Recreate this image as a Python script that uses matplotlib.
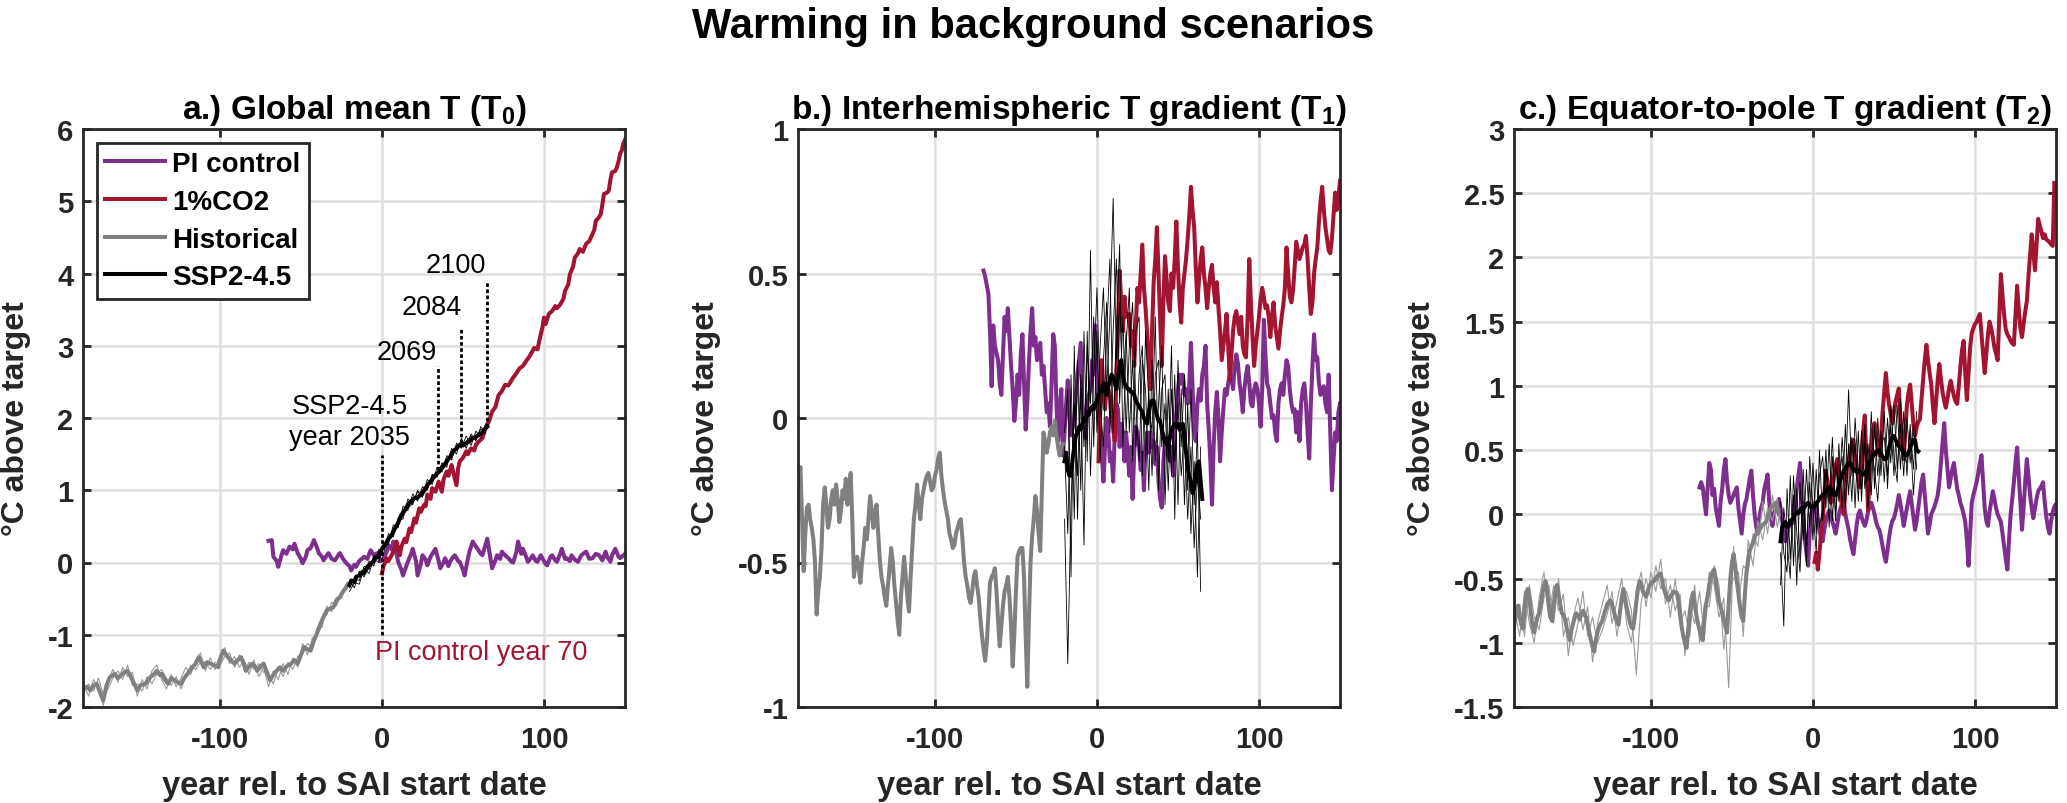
import matplotlib
matplotlib.use('Agg')
import matplotlib.pyplot as plt
import numpy as np

plt.rcParams['font.family'] = ['Liberation Sans', 'DejaVu Sans']
plt.rcParams['font.weight'] = 'bold'
plt.rcParams['axes.unicode_minus'] = False
plt.rcParams['mathtext.fontset'] = 'custom'
plt.rcParams['mathtext.rm'] = 'Liberation Sans:bold'
plt.rcParams['mathtext.it'] = 'Liberation Sans:bold'
plt.rcParams['mathtext.bf'] = 'Liberation Sans:bold'

# ---------------- data: panel a (global mean T) ----------------
PI_A = [(-70,0.30),(-68,0.31),(-67,0.08),(-65,0.02),(-64,-0.06),(-62,0.10),(-61,0.17),(-59,0.12),(-57,0.22),(-55,0.18),(-54,0.26),(-52,0.13),(-50,0.05),(-49,-0.01),(-47,0.08),(-46,0.17),(-44,0.20),(-42,0.31),(-40,0.20),(-39,0.13),(-37,0.08),(-36,0.03),(-34,0.10),(-33,0.13),(-31,0.05),(-29,0.03),(-27,0.10),(-26,0.13),(-24,0.05),(-22,-0.01),(-20,-0.05),(-19,-0.11),(-17,-0.03),(-16,-0.06),(-14,0.02),(-11,0.08),(-9,0.05),(-7,0.17),(-5,0.10),(-3,0.13),(-1,0.02),(1,0.06),(3,0.15),(4,0.24),(6,0.18),(7,0.29),(9,0.12),(10,0.01),(12,-0.10),(13,-0.18),(15,-0.05),(16,0.01),(18,0.12),(19,0.19),(21,0.02),(22,-0.18),(24,-0.02),(25,0.10),(27,0.04),(28,-0.04),(30,0.08),(33,0.19),(35,0.02),(36,-0.08),(38,0.00),(39,0.06),(41,-0.05),(42,0.01),(44,0.08),(45,0.10),(47,0.02),(48,0.01),(50,-0.10),(51,-0.18),(53,0.05),(54,0.15),(56,0.29),(58,0.22),(59,0.19),(61,0.12),(62,0.10),(64,0.25),(65,0.33),(67,0.05),(68,-0.08),(70,0.03),(71,0.10),(73,0.05),(74,0.15),(76,0.10),(78,0.06),(80,0.01),(81,0.00),(83,0.15),(84,0.29),(86,0.12),(87,0.19),(89,0.08),(90,0.01),(92,0.06),(93,0.10),(95,0.02),(96,0.01),(98,0.10),(99,0.06),(101,-0.02),(102,-0.04),(104,0.08),(105,0.10),(107,0.03),(108,0.01),(110,0.12),(111,0.19),(113,0.05),(114,0.06),(116,0.02),(117,0.10),(119,0.04),(121,0.01),(123,0.10),(126,0.15),(128,0.05),(130,0.06),(132,0.12),(134,0.10),(136,0.03),(138,0.15),(139,0.08),(141,0.01),(142,0.10),(144,0.19),(146,0.08),(147,0.06),(149,0.10),(150,0.12)]

RED_A = [(0,-0.15),(1,-0.05),(3,0.06),(4,0.02),(6,0.10),(8,0.20),(9,0.29),(11,0.10),(12,0.22),(14,0.33),(15,0.28),(17,0.47),(18,0.42),(20,0.61),(21,0.55),(23,0.75),(24,0.70),(26,0.80),(27,0.78),(28,0.94),(30,0.88),(31,1.03),(33,0.98),(35,1.12),(37,0.98),(38,1.15),(40,1.26),(41,1.20),(43,1.35),(44,1.25),(46,1.07),(47,1.30),(48,1.40),(50,1.45),(52,1.54),(53,1.50),(55,1.58),(57,1.55),(58,1.63),(60,1.68),(62,1.72),(63,1.80),(65,1.91),(66,1.95),(68,2.09),(70,2.15),(72,2.32),(74,2.37),(76,2.46),(78,2.45),(81,2.56),(83,2.62),(85,2.69),(87,2.72),(89,2.79),(91,2.85),(93,2.93),(94,2.97),(96,2.95),(97,3.06),(99,3.25),(100,3.39),(101,3.30),(103,3.44),(105,3.48),(107,3.55),(108,3.52),(110,3.57),(112,3.65),(113,3.76),(115,3.85),(116,3.99),(118,4.10),(119,4.22),(121,4.28),(122,4.34),(124,4.30),(126,4.41),(128,4.45),(129,4.50),(131,4.60),(132,4.73),(134,4.78),(135,4.82),(136,4.95),(137,5.10),(139,5.12),(140,5.15),(141,5.30),(142,5.40),(144,5.42),(145,5.47),(146,5.55),(147,5.66),(148,5.70),(149,5.80),(150,5.85)]

HIST_A = [(-184,-1.75),(-182,-1.72),(-180,-1.77),(-178,-1.70),(-176,-1.68),(-174,-1.80),(-172,-1.91),(-170,-1.70),(-168,-1.59),(-166,-1.56),(-165,-1.54),(-163,-1.60),(-161,-1.56),(-159,-1.52),(-157,-1.50),(-155,-1.58),(-154,-1.63),(-152,-1.72),(-151,-1.77),(-149,-1.70),(-146,-1.68),(-144,-1.62),(-143,-1.59),(-141,-1.55),(-139,-1.50),(-137,-1.56),(-136,-1.54),(-134,-1.62),(-132,-1.68),(-130,-1.60),(-128,-1.63),(-126,-1.66),(-124,-1.68),(-122,-1.60),(-120,-1.54),(-118,-1.48),(-117,-1.45),(-115,-1.40),(-113,-1.31),(-111,-1.40),(-110,-1.45),(-108,-1.38),(-106,-1.40),(-104,-1.42),(-101,-1.45),(-100,-1.35),(-98,-1.22),(-96,-1.28),(-95,-1.31),(-93,-1.36),(-91,-1.40),(-89,-1.35),(-87,-1.31),(-85,-1.42),(-84,-1.50),(-82,-1.44),(-80,-1.40),(-78,-1.45),(-77,-1.50),(-75,-1.44),(-73,-1.40),(-71,-1.52),(-69,-1.63),(-67,-1.55),(-65,-1.50),(-63,-1.45),(-61,-1.50),(-59,-1.44),(-56,-1.40),(-54,-1.35),(-52,-1.40),(-50,-1.28),(-48,-1.17),(-46,-1.20),(-44,-1.22),(-42,-1.08),(-41,-1.03),(-39,-0.92),(-38,-0.85),(-36,-0.75),(-34,-0.66),(-32,-0.64),(-30,-0.62),(-28,-0.52),(-26,-0.48),(-24,-0.40),(-22,-0.34),(-21,-0.30)]

HIST_A_M1 = [(-184,-1.70),(-181,-1.85),(-178,-1.62),(-175,-1.75),(-172,-1.98),(-169,-1.62),(-166,-1.48),(-163,-1.66),(-160,-1.45),(-157,-1.58),(-154,-1.52),(-151,-1.85),(-148,-1.62),(-145,-1.75),(-142,-1.50),(-139,-1.42),(-136,-1.62),(-133,-1.75),(-130,-1.55),(-127,-1.72),(-124,-1.60),(-121,-1.45),(-118,-1.55),(-115,-1.35),(-112,-1.25),(-109,-1.50),(-106,-1.32),(-103,-1.48),(-100,-1.28),(-97,-1.18),(-94,-1.40),(-91,-1.30),(-88,-1.45),(-85,-1.35),(-82,-1.55),(-79,-1.35),(-76,-1.58),(-73,-1.45),(-70,-1.72),(-67,-1.50),(-64,-1.62),(-61,-1.40),(-58,-1.55),(-55,-1.32),(-52,-1.45),(-49,-1.12),(-46,-1.28),(-43,-1.05),(-40,-0.98),(-37,-0.80),(-34,-0.72),(-31,-0.55),(-28,-0.60),(-25,-0.42),(-22,-0.38),(-20,-0.28)]
HIST_A_M2 = [(-184,-1.80),(-181,-1.68),(-178,-1.78),(-175,-1.60),(-172,-1.82),(-169,-1.75),(-166,-1.60),(-163,-1.50),(-160,-1.62),(-157,-1.42),(-154,-1.70),(-151,-1.68),(-148,-1.78),(-145,-1.58),(-142,-1.68),(-139,-1.55),(-136,-1.48),(-133,-1.60),(-130,-1.70),(-127,-1.58),(-124,-1.75),(-121,-1.58),(-118,-1.42),(-115,-1.48),(-112,-1.38),(-109,-1.38),(-106,-1.48),(-103,-1.38),(-100,-1.42),(-97,-1.30),(-94,-1.25),(-91,-1.45),(-88,-1.28),(-85,-1.48),(-82,-1.38),(-79,-1.48),(-76,-1.40),(-73,-1.52),(-70,-1.55),(-67,-1.68),(-64,-1.45),(-61,-1.58),(-58,-1.38),(-55,-1.48),(-52,-1.30),(-49,-1.25),(-46,-1.12),(-43,-1.18),(-40,-0.90),(-37,-0.90),(-34,-0.60),(-31,-0.68),(-28,-0.48),(-25,-0.50),(-22,-0.30),(-20,-0.35)]

SSP_A = [(-20,-0.31),(-19,-0.25),(-17,-0.27),(-16,-0.20),(-14,-0.18),(-12,-0.13),(-11,-0.15),(-9,-0.06),(-8,-0.04),(-6,0.00),(-4,0.06),(-2,0.10),(0,0.19),(2,0.24),(4,0.33),(6,0.38),(8,0.47),(10,0.55),(12,0.66),(14,0.72),(16,0.80),(18,0.85),(20,0.89),(22,0.90),(24,0.94),(26,1.00),(28,1.07),(30,1.12),(32,1.18),(33,1.21),(35,1.25),(36,1.28),(38,1.33),(40,1.40),(42,1.46),(44,1.54),(46,1.58),(48,1.63),(50,1.62),(52,1.65),(54,1.68),(56,1.72),(58,1.74),(60,1.77),(62,1.80),(64,1.86),(65,1.88)]
SSP_A_M1 = [(-20,-0.35),(-17,-0.22),(-14,-0.25),(-11,-0.05),(-8,-0.10),(-5,0.10),(-2,0.05),(1,0.28),(4,0.25),(7,0.52),(10,0.48),(13,0.78),(16,0.72),(19,0.95),(22,0.85),(25,1.05),(28,1.00),(31,1.22),(34,1.18),(37,1.38),(40,1.32),(43,1.58),(46,1.50),(49,1.72),(52,1.58),(55,1.78),(58,1.68),(61,1.88),(64,1.80)]
SSP_A_M2 = [(-20,-0.25),(-17,-0.35),(-14,-0.12),(-11,-0.20),(-8,0.02),(-5,-0.05),(-2,0.18),(1,0.12),(4,0.40),(7,0.35),(10,0.62),(13,0.60),(16,0.88),(19,0.80),(22,1.00),(25,0.90),(28,1.15),(31,1.08),(34,1.32),(37,1.25),(40,1.48),(43,1.42),(46,1.65),(49,1.58),(52,1.75),(55,1.62),(58,1.82),(61,1.72),(64,1.92)]
SSP_A_M3 = [(-20,-0.40),(-17,-0.28),(-14,-0.30),(-11,-0.08),(-8,-0.15),(-5,0.05),(-2,0.00),(1,0.22),(4,0.28),(7,0.40),(10,0.52),(13,0.65),(16,0.75),(19,0.82),(22,0.98),(25,0.92),(28,1.02),(31,1.20),(34,1.20),(37,1.35),(40,1.42),(43,1.45),(46,1.62),(49,1.60),(52,1.68),(55,1.75),(58,1.70),(61,1.85),(64,1.78)]

# ---------------- data: panel b (interhemispheric gradient) ----------------
PI_B = [(-70,0.51),(-69,0.49),(-67,0.43),(-66,0.30),(-65,0.11),(-64,0.32),(-63,0.25),(-61,0.20),(-60,0.12),(-59,0.08),(-58,0.22),(-57,0.35),(-56,0.30),(-55,0.38),(-54,0.28),(-53,0.18),(-52,0.10),(-51,-0.01),(-50,0.05),(-49,0.15),(-48,0.08),(-47,0.22),(-46,0.29),(-45,0.12),(-44,-0.04),(-43,0.05),(-42,0.19),(-41,0.30),(-40,0.38),(-39,0.25),(-38,0.28),(-37,0.20),(-36,0.22),(-35,0.26),(-34,0.15),(-33,0.18),(-32,0.10),(-31,0.02),(-30,0.05),(-29,-0.03),(-28,0.12),(-27,0.29),(-26,0.25),(-25,0.05),(-24,-0.08),(-23,0.03),(-22,0.10),(-21,-0.13),(-20,-0.05),(-19,0.05),(-18,0.13),(-17,0.02),(-16,-0.06),(-14,-0.01),(-13,0.08),(-12,0.15),(-10,0.26),(-9,0.05),(-8,0.00),(-7,-0.07),(-6,0.05),(-5,0.08),(-4,0.10),(-3,0.20),(-2,0.15),(-1,0.32),(0,0.12),(1,0.00),(2,-0.05),(3,-0.12),(4,-0.22),(5,-0.10),(6,0.00),(7,-0.05),(8,-0.15),(9,-0.12),(10,-0.22),(11,-0.05),(12,0.05),(13,0.03),(14,-0.10),(15,-0.02),(16,-0.05),(17,-0.15),(18,-0.05),(20,-0.20),(21,-0.10),(22,-0.28),(23,-0.12),(24,-0.03),(25,-0.05),(26,-0.10),(27,-0.18),(28,-0.12),(29,-0.25),(30,-0.10),(31,-0.05),(32,-0.12),(33,-0.05),(34,-0.10),(35,-0.08),(36,-0.16),(37,-0.10),(38,-0.22),(39,-0.28),(40,-0.31),(41,-0.15),(42,-0.08),(43,-0.07),(44,-0.12),(45,-0.15),(46,-0.10),(47,-0.20),(48,-0.05),(49,0.02),(50,0.10),(51,0.15),(52,0.12),(53,0.15),(54,0.08),(55,0.10),(56,0.05),(57,0.12),(58,0.26),(59,0.10),(60,-0.05),(61,-0.08),(62,0.05),(63,0.10),(64,0.06),(65,0.15),(66,0.18),(67,0.25),(68,0.05),(69,-0.04),(70,-0.15),(71,-0.30),(72,-0.10),(73,0.02),(74,0.09),(75,0.00),(76,-0.15),(77,-0.05),(78,0.03),(79,0.10),(80,0.08),(81,0.12),(82,0.15),(83,0.14),(84,0.10),(85,0.18),(86,0.22),(87,0.19),(88,0.12),(89,0.08),(90,0.02),(91,0.10),(92,0.15),(93,0.18),(94,0.12),(95,0.05),(96,0.04),(97,0.10),(98,0.12),(99,0.10),(100,0.05),(101,-0.03),(102,0.10),(103,0.34),(104,0.22),(105,0.12),(106,0.10),(107,0.05),(108,0.00),(109,0.01),(110,-0.05),(111,-0.08),(112,0.05),(113,0.10),(114,0.12),(115,0.08),(116,0.15),(117,0.20),(118,0.18),(119,0.10),(120,0.05),(121,0.02),(122,0.03),(123,-0.05),(124,0.02),(125,-0.08),(126,0.05),(127,0.10),(128,0.12),(129,0.05),(130,-0.05),(131,-0.14),(132,0.05),(133,0.18),(134,0.29),(135,0.20),(136,0.21),(137,0.12),(138,0.08),(139,0.10),(140,0.11),(141,0.05),(142,0.02),(143,0.15),(144,-0.05),(145,-0.25),(146,-0.15),(147,-0.05),(148,-0.08),(149,0.02),(150,0.05)]

RED_B = [(1,-0.15),(2,0.05),(3,0.20),(4,0.10),(5,0.03),(6,0.12),(8,0.08),(9,0.00),(11,-0.08),(12,0.15),(13,0.30),(14,0.51),(15,0.40),(16,0.30),(17,0.42),(18,0.35),(20,0.36),(21,0.25),(22,0.30),(23,0.18),(24,0.32),(25,0.45),(26,0.40),(27,0.50),(28,0.60),(29,0.45),(30,0.38),(31,0.29),(32,0.20),(33,0.10),(34,0.30),(35,0.47),(36,0.55),(37,0.66),(38,0.50),(39,0.35),(40,0.18),(41,0.40),(42,0.56),(43,0.48),(44,0.40),(45,0.37),(46,0.50),(47,0.45),(48,0.55),(49,0.68),(50,0.52),(51,0.40),(52,0.33),(53,0.45),(54,0.50),(55,0.55),(56,0.62),(57,0.70),(58,0.80),(59,0.72),(60,0.66),(61,0.52),(62,0.40),(63,0.48),(64,0.55),(65,0.59),(66,0.50),(67,0.45),(68,0.38),(69,0.45),(70,0.50),(71,0.53),(72,0.45),(73,0.40),(74,0.47),(75,0.38),(76,0.30),(77,0.20),(78,0.25),(79,0.30),(80,0.36),(81,0.25),(82,0.13),(83,0.22),(84,0.30),(85,0.35),(86,0.37),(87,0.33),(88,0.29),(89,0.35),(90,0.25),(91,0.22),(92,0.21),(93,0.35),(94,0.55),(95,0.40),(96,0.28),(97,0.18),(98,0.25),(99,0.30),(100,0.35),(101,0.41),(102,0.45),(103,0.42),(104,0.38),(105,0.39),(106,0.35),(107,0.28),(108,0.35),(109,0.40),(110,0.32),(111,0.28),(112,0.24),(113,0.30),(114,0.35),(115,0.39),(116,0.45),(117,0.59),(118,0.50),(119,0.42),(120,0.40),(121,0.44),(122,0.52),(123,0.61),(124,0.58),(125,0.55),(126,0.57),(127,0.59),(128,0.60),(129,0.63),(130,0.55),(131,0.45),(132,0.36),(133,0.40),(134,0.50),(135,0.55),(136,0.59),(137,0.68),(138,0.75),(139,0.80),(140,0.72),(141,0.66),(142,0.62),(143,0.58),(144,0.57),(145,0.62),(146,0.70),(147,0.78),(148,0.72),(149,0.76),(150,0.82)]

HIST_B = [(-184,-0.21),(-183,-0.17),(-182,-0.35),(-181,-0.53),(-180,-0.40),(-179,-0.31),(-178,-0.30),(-177,-0.35),(-176,-0.38),(-175,-0.42),(-174,-0.50),(-173,-0.68),(-172,-0.60),(-171,-0.55),(-170,-0.45),(-169,-0.30),(-168,-0.24),(-167,-0.30),(-166,-0.38),(-165,-0.35),(-164,-0.28),(-163,-0.25),(-162,-0.30),(-161,-0.23),(-160,-0.28),(-159,-0.36),(-158,-0.32),(-157,-0.25),(-156,-0.28),(-155,-0.21),(-154,-0.30),(-153,-0.25),(-152,-0.19),(-151,-0.35),(-150,-0.55),(-149,-0.50),(-148,-0.48),(-147,-0.52),(-146,-0.57),(-145,-0.50),(-144,-0.45),(-143,-0.38),(-142,-0.42),(-141,-0.35),(-140,-0.27),(-139,-0.32),(-138,-0.38),(-137,-0.33),(-136,-0.30),(-135,-0.40),(-134,-0.49),(-133,-0.55),(-132,-0.58),(-131,-0.62),(-130,-0.65),(-129,-0.58),(-128,-0.52),(-127,-0.45),(-126,-0.50),(-125,-0.58),(-124,-0.64),(-123,-0.70),(-122,-0.75),(-121,-0.62),(-120,-0.55),(-119,-0.48),(-118,-0.55),(-117,-0.62),(-116,-0.67),(-115,-0.55),(-114,-0.45),(-113,-0.35),(-112,-0.30),(-111,-0.23),(-110,-0.30),(-109,-0.35),(-108,-0.28),(-107,-0.25),(-106,-0.22),(-105,-0.20),(-104,-0.19),(-103,-0.22),(-102,-0.25),(-101,-0.24),(-100,-0.20),(-99,-0.18),(-98,-0.14),(-97,-0.12),(-96,-0.20),(-95,-0.25),(-94,-0.29),(-93,-0.32),(-92,-0.35),(-91,-0.40),(-90,-0.42),(-89,-0.45),(-88,-0.44),(-87,-0.40),(-86,-0.38),(-85,-0.36),(-84,-0.35),(-83,-0.42),(-82,-0.50),(-81,-0.55),(-80,-0.58),(-79,-0.62),(-78,-0.64),(-77,-0.60),(-76,-0.55),(-75,-0.53),(-74,-0.58),(-73,-0.62),(-72,-0.69),(-71,-0.75),(-70,-0.80),(-69,-0.84),(-68,-0.78),(-67,-0.68),(-66,-0.57),(-65,-0.55),(-64,-0.54),(-63,-0.52),(-62,-0.60),(-61,-0.70),(-60,-0.79),(-59,-0.72),(-58,-0.65),(-57,-0.60),(-56,-0.58),(-55,-0.55),(-54,-0.62),(-53,-0.72),(-52,-0.86),(-51,-0.75),(-50,-0.60),(-49,-0.48),(-48,-0.46),(-47,-0.45),(-46,-0.45),(-45,-0.55),(-44,-0.75),(-43,-0.93),(-42,-0.70),(-41,-0.50),(-40,-0.41),(-39,-0.35),(-38,-0.27),(-37,-0.32),(-36,-0.40),(-35,-0.46),(-34,-0.25),(-33,-0.05),(-32,-0.08),(-31,-0.12),(-30,-0.09),(-29,-0.05),(-28,-0.03),(-27,-0.06),(-26,-0.01),(-25,-0.06),(-24,-0.10),(-23,-0.13),(-22,-0.10),(-21,-0.09)]

SSP_B = [(-20,-0.15),(-19,-0.12),(-18,-0.18),(-17,-0.20),(-16,-0.20),(-15,-0.14),(-14,-0.10),(-13,-0.06),(-12,-0.05),(-11,-0.03),(-10,-0.04),(-9,-0.02),(-8,0.00),(-7,-0.01),(-6,0.02),(-5,0.01),(-4,0.03),(-3,0.04),(-2,0.03),(-1,0.05),(0,0.06),(1,0.08),(2,0.09),(3,0.10),(4,0.12),(5,0.09),(6,0.08),(7,0.11),(8,0.13),(9,0.15),(10,0.14),(11,0.12),(12,0.10),(13,0.14),(14,0.18),(15,0.20),(16,0.15),(17,0.12),(18,0.11),(19,0.10),(20,0.10),(21,0.09),(22,0.09),(23,0.08),(24,0.06),(25,0.05),(26,0.04),(27,0.03),(28,0.02),(29,0.00),(30,-0.01),(31,-0.02),(32,0.02),(33,0.05),(34,0.06),(35,0.06),(36,0.03),(37,0.01),(38,-0.01),(39,-0.01),(40,-0.04),(41,-0.06),(42,-0.08),(43,-0.09),(44,-0.10),(45,-0.07),(46,-0.04),(47,-0.03),(48,-0.02),(49,-0.03),(50,-0.02),(51,-0.04),(52,-0.03),(53,-0.02),(54,-0.06),(55,-0.12),(56,-0.17),(57,-0.20),(58,-0.22),(59,-0.26),(60,-0.24),(61,-0.20),(62,-0.16),(63,-0.15),(64,-0.22),(65,-0.28)]
SSP_B_M1 = [(-20,-0.35),(-18,-0.85),(-16,-0.30),(-14,0.05),(-12,-0.20),(-10,0.15),(-8,-0.10),(-6,0.25),(-4,0.05),(-2,0.35),(0,-0.05),(2,0.25),(4,0.45),(6,0.10),(8,0.35),(10,0.76),(12,0.20),(14,0.40),(16,0.10),(18,0.30),(20,-0.05),(22,0.20),(24,-0.10),(26,0.15),(28,0.25),(30,-0.15),(32,0.10),(34,-0.20),(36,0.15),(38,0.20),(40,-0.10),(42,0.05),(44,-0.25),(46,0.10),(48,-0.15),(50,0.05),(52,-0.20),(54,-0.05),(56,-0.35),(58,-0.10),(60,-0.45),(62,-0.20),(64,-0.35)]
SSP_B_M2 = [(-20,-0.10),(-18,-0.40),(-16,0.15),(-14,-0.35),(-12,0.20),(-10,-0.25),(-8,0.30),(-6,-0.15),(-4,0.58),(-2,-0.10),(0,0.30),(2,-0.15),(4,0.20),(6,0.40),(8,-0.05),(10,0.30),(12,0.55),(14,0.05),(16,0.35),(18,-0.05),(20,0.25),(22,0.40),(24,0.05),(26,-0.15),(28,0.20),(30,0.10),(32,-0.25),(34,0.20),(36,-0.15),(38,0.05),(40,0.25),(42,-0.30),(44,0.10),(46,-0.20),(48,0.15),(50,-0.30),(52,0.10),(54,-0.30),(56,0.05),(58,-0.40),(60,-0.15),(62,-0.55),(64,-0.10)]
SSP_B_M3 = [(-20,-0.05),(-18,0.10),(-16,-0.55),(-14,0.25),(-12,-0.35),(-10,0.10),(-8,-0.44),(-6,0.30),(-4,-0.20),(-2,0.15),(0,0.45),(2,0.05),(4,-0.10),(6,0.30),(8,0.55),(10,-0.05),(12,0.30),(14,0.60),(16,-0.10),(18,0.25),(20,0.45),(22,-0.15),(24,0.30),(26,0.35),(28,-0.20),(30,0.30),(32,0.05),(34,-0.05),(36,0.35),(38,-0.25),(40,0.10),(42,0.15),(44,-0.15),(46,0.25),(48,-0.35),(50,0.20),(52,-0.10),(54,0.15),(56,-0.25),(58,0.10),(60,-0.30),(62,-0.05),(64,-0.60)]

# ---------------- data: panel c (equator-to-pole gradient) ----------------
PI_C = [(-70,0.21),(-69,0.25),(-68,0.21),(-67,0.10),(-66,0.00),(-65,0.20),(-64,0.40),(-63,0.35),(-62,0.15),(-61,0.20),(-60,0.05),(-59,-0.02),(-58,-0.09),(-57,0.10),(-56,0.20),(-55,0.35),(-54,0.43),(-53,0.25),(-52,0.15),(-51,0.09),(-50,0.12),(-49,0.15),(-48,0.18),(-47,0.21),(-46,0.05),(-45,-0.05),(-44,-0.15),(-43,0.00),(-42,0.08),(-41,0.12),(-40,0.20),(-39,0.28),(-38,0.34),(-37,0.15),(-36,0.00),(-35,-0.10),(-34,-0.15),(-33,-0.02),(-32,0.05),(-31,0.09),(-30,0.20),(-29,0.25),(-28,0.31),(-27,0.10),(-26,-0.02),(-25,-0.09),(-24,0.00),(-23,0.05),(-22,0.08),(-21,0.12),(-20,0.05),(-19,-0.05),(-18,-0.12),(-17,-0.21),(-16,-0.15),(-15,-0.10),(-14,-0.08),(-13,-0.07),(-12,-0.06),(-11,0.05),(-10,0.20),(-9,0.30),(-8,0.40),(-7,0.15),(-6,-0.05),(-5,-0.20),(-4,-0.30),(-3,-0.40),(-2,-0.15),(-1,0.00),(0,0.05),(1,0.09),(2,0.05),(3,-0.05),(4,-0.12),(5,-0.18),(6,-0.21),(7,-0.12),(8,-0.05),(9,0.00),(10,0.03),(11,0.00),(12,-0.06),(13,-0.10),(14,-0.15),(15,-0.08),(16,0.00),(17,0.05),(18,0.08),(19,0.09),(20,0.00),(21,-0.06),(22,-0.12),(23,-0.20),(24,-0.26),(25,-0.31),(26,-0.20),(27,-0.08),(28,0.00),(29,0.03),(30,-0.02),(31,-0.06),(32,-0.09),(33,-0.05),(34,0.02),(35,0.06),(36,0.09),(37,0.05),(38,0.00),(39,-0.06),(40,-0.10),(41,-0.12),(42,-0.18),(43,-0.25),(44,-0.32),(45,-0.37),(46,-0.28),(47,-0.18),(48,-0.10),(49,-0.05),(50,-0.03),(51,0.02),(52,0.08),(53,0.15),(54,0.08),(55,0.00),(56,-0.09),(57,-0.02),(58,0.05),(59,0.12),(60,0.18),(61,0.08),(62,-0.02),(63,-0.12),(64,-0.05),(65,0.05),(66,0.15),(67,0.25),(68,0.31),(69,0.15),(70,0.00),(71,-0.15),(72,-0.08),(73,0.00),(74,0.03),(75,0.06),(76,0.10),(77,0.15),(78,0.25),(79,0.40),(80,0.55),(81,0.71),(82,0.50),(83,0.35),(84,0.21),(85,0.28),(86,0.35),(87,0.40),(88,0.30),(89,0.20),(90,0.15),(91,0.09),(92,0.05),(93,0.00),(94,-0.06),(95,-0.20),(96,-0.40),(97,-0.15),(98,0.09),(99,0.15),(100,0.20),(101,0.25),(102,0.32),(103,0.40),(104,0.46),(105,0.25),(106,0.05),(107,-0.05),(108,-0.09),(109,0.02),(110,0.10),(111,0.18),(112,0.12),(113,0.05),(114,0.00),(115,-0.03),(116,-0.06),(117,-0.15),(118,-0.25),(119,-0.35),(120,-0.43),(121,-0.20),(122,0.00),(123,0.12),(124,0.25),(125,0.40),(126,0.52),(127,0.30),(128,0.10),(129,-0.12),(130,0.05),(131,0.25),(132,0.43),(133,0.30),(134,0.15),(135,0.05),(136,-0.03),(137,0.05),(138,0.12),(139,0.18),(140,0.20),(141,0.22),(142,0.25),(143,0.10),(144,-0.02),(145,-0.10),(146,-0.15),(147,-0.05),(148,0.02),(149,0.06),(150,0.08)]

RED_C = [(1,-0.37),(2,-0.30),(3,-0.43),(4,-0.30),(5,-0.15),(6,-0.06),(7,0.15),(8,0.34),(9,0.25),(10,0.15),(11,0.09),(12,0.20),(13,0.30),(14,0.38),(15,0.43),(16,0.30),(17,0.15),(18,0.05),(19,0.00),(20,0.20),(21,0.35),(22,0.40),(23,0.50),(24,0.55),(25,0.58),(26,0.45),(27,0.35),(28,0.28),(29,0.21),(30,0.45),(31,0.65),(32,0.77),(33,0.40),(34,0.03),(35,0.30),(36,0.50),(37,0.65),(38,0.71),(39,0.62),(40,0.52),(41,0.46),(42,0.60),(43,0.80),(44,0.95),(45,1.10),(46,0.95),(47,0.85),(48,0.78),(49,0.71),(50,0.80),(51,0.88),(52,0.93),(53,0.98),(54,0.75),(55,0.55),(56,0.43),(57,0.65),(58,0.85),(59,0.95),(60,1.01),(61,0.85),(62,0.70),(63,0.61),(64,0.68),(65,0.72),(66,0.74),(67,0.90),(68,1.05),(69,1.20),(70,1.32),(71,1.20),(72,1.10),(73,1.01),(74,0.85),(75,0.71),(76,0.88),(77,1.05),(78,1.17),(79,1.05),(80,0.95),(81,0.88),(82,0.83),(83,0.90),(84,0.98),(85,1.04),(86,0.98),(87,0.92),(88,0.88),(89,0.86),(90,1.00),(91,1.15),(92,1.28),(93,1.35),(94,1.10),(95,0.89),(96,1.10),(97,1.30),(98,1.41),(99,1.45),(100,1.48),(101,1.50),(102,1.53),(103,1.56),(104,1.40),(105,1.25),(106,1.10),(107,1.25),(108,1.40),(109,1.50),(110,1.45),(111,1.38),(112,1.30),(113,1.25),(114,1.20),(115,1.55),(116,1.87),(117,1.70),(118,1.55),(119,1.44),(120,1.40),(121,1.38),(122,1.35),(123,1.33),(124,1.32),(125,1.55),(126,1.78),(127,1.60),(128,1.45),(129,1.38),(130,1.48),(131,1.58),(132,1.66),(133,1.85),(134,2.02),(135,2.18),(136,2.05),(137,1.90),(138,2.10),(139,2.30),(140,2.25),(141,2.20),(142,2.15),(143,2.18),(144,2.14),(145,2.13),(146,2.12),(147,2.10),(148,2.09),(149,2.58)]

HIST_C = [(-184,-0.83),(-183,-0.75),(-182,-0.71),(-181,-0.80),(-180,-0.86),(-179,-0.89),(-178,-0.75),(-177,-0.62),(-176,-0.58),(-175,-0.65),(-174,-0.78),(-173,-0.88),(-172,-0.92),(-171,-0.85),(-170,-0.80),(-169,-0.77),(-168,-0.70),(-167,-0.62),(-166,-0.55),(-165,-0.52),(-164,-0.60),(-163,-0.72),(-162,-0.80),(-161,-0.83),(-160,-0.70),(-159,-0.60),(-158,-0.55),(-157,-0.62),(-156,-0.70),(-155,-0.77),(-154,-0.78),(-153,-0.82),(-152,-0.88),(-151,-0.94),(-150,-0.98),(-149,-0.90),(-148,-0.85),(-147,-0.80),(-146,-0.77),(-145,-0.79),(-144,-0.82),(-143,-0.78),(-142,-0.75),(-141,-0.78),(-140,-0.80),(-139,-0.86),(-138,-0.92),(-137,-0.98),(-136,-1.03),(-135,-1.07),(-134,-0.98),(-133,-0.92),(-132,-0.88),(-131,-0.85),(-130,-0.83),(-129,-0.78),(-128,-0.74),(-127,-0.70),(-126,-0.68),(-125,-0.67),(-124,-0.70),(-123,-0.75),(-122,-0.80),(-121,-0.83),(-120,-0.86),(-119,-0.75),(-118,-0.65),(-117,-0.58),(-116,-0.65),(-115,-0.72),(-114,-0.78),(-113,-0.84),(-112,-0.88),(-111,-0.89),(-110,-0.80),(-109,-0.68),(-108,-0.58),(-107,-0.52),(-106,-0.55),(-105,-0.60),(-104,-0.62),(-103,-0.64),(-102,-0.60),(-101,-0.56),(-100,-0.54),(-99,-0.52),(-98,-0.52),(-97,-0.50),(-96,-0.48),(-95,-0.47),(-94,-0.46),(-93,-0.52),(-92,-0.58),(-91,-0.62),(-90,-0.65),(-89,-0.67),(-88,-0.64),(-87,-0.62),(-86,-0.60),(-85,-0.61),(-84,-0.61),(-83,-0.68),(-82,-0.78),(-81,-0.88),(-80,-0.95),(-79,-1.00),(-78,-1.04),(-77,-0.90),(-76,-0.76),(-75,-0.66),(-74,-0.61),(-73,-0.70),(-72,-0.78),(-71,-0.85),(-70,-0.90),(-69,-0.95),(-68,-0.98),(-67,-0.82),(-66,-0.70),(-65,-0.64),(-64,-0.55),(-63,-0.48),(-62,-0.45),(-61,-0.43),(-60,-0.52),(-59,-0.60),(-58,-0.68),(-57,-0.72),(-56,-0.77),(-55,-0.82),(-54,-0.88),(-53,-0.92),(-52,-0.70),(-51,-0.50),(-50,-0.38),(-49,-0.31),(-48,-0.40),(-47,-0.52),(-46,-0.62),(-45,-0.72),(-44,-0.80),(-43,-0.83),(-42,-0.62),(-41,-0.45),(-40,-0.35),(-39,-0.28),(-38,-0.25),(-37,-0.22),(-36,-0.18),(-35,-0.15),(-34,-0.12),(-33,-0.12),(-32,-0.10),(-31,-0.08),(-30,-0.07),(-29,-0.06),(-28,-0.02),(-27,0.02),(-26,0.05),(-25,0.06),(-24,0.08),(-23,0.09),(-22,0.05),(-21,0.00)]
HIST_C_M1 = [(-184,-0.75),(-181,-0.95),(-178,-0.60),(-175,-0.85),(-172,-1.00),(-169,-0.65),(-166,-0.45),(-163,-0.80),(-160,-0.55),(-157,-0.75),(-154,-0.62),(-151,-1.10),(-148,-0.80),(-145,-0.65),(-142,-0.90),(-139,-0.72),(-136,-1.15),(-133,-0.85),(-130,-0.70),(-127,-0.55),(-124,-0.85),(-121,-0.68),(-118,-0.50),(-115,-0.85),(-112,-1.00),(-109,-0.60),(-106,-0.45),(-103,-0.72),(-100,-0.45),(-97,-0.60),(-94,-0.35),(-91,-0.70),(-88,-0.55),(-85,-0.75),(-82,-0.62),(-79,-1.10),(-76,-0.70),(-73,-0.85),(-70,-0.60),(-67,-0.95),(-64,-0.45),(-61,-0.55),(-58,-0.80),(-55,-0.65),(-52,-1.35),(-49,-0.25),(-46,-0.70),(-43,-0.40),(-40,-0.45),(-37,-0.15),(-34,-0.25),(-31,0.10),(-28,-0.15),(-25,0.15),(-22,-0.10),(-20,0.05)]
HIST_C_M2 = [(-184,-0.90),(-181,-0.70),(-178,-0.95),(-175,-0.55),(-172,-0.80),(-169,-0.90),(-166,-0.65),(-163,-0.55),(-160,-0.85),(-157,-0.50),(-154,-0.95),(-151,-0.80),(-148,-1.02),(-145,-0.85),(-142,-0.60),(-139,-0.95),(-136,-0.80),(-133,-1.00),(-130,-0.90),(-127,-0.78),(-124,-0.60),(-121,-0.95),(-118,-0.72),(-115,-0.60),(-112,-0.75),(-109,-1.25),(-106,-0.68),(-103,-0.50),(-100,-0.65),(-97,-0.40),(-94,-0.58),(-91,-0.50),(-88,-0.80),(-85,-0.50),(-82,-0.85),(-79,-0.75),(-76,-0.95),(-73,-0.55),(-70,-1.00),(-67,-0.70),(-64,-0.72),(-61,-0.40),(-58,-0.55),(-55,-1.05),(-52,-0.60),(-49,-0.50),(-46,-0.45),(-43,-0.95),(-40,-0.20),(-37,-0.40),(-34,-0.05),(-31,-0.20),(-28,0.05),(-25,-0.05),(-22,0.12),(-20,-0.10)]

SSP_C = [(-20,-0.21),(-19,-0.10),(-18,-0.08),(-17,-0.06),(-16,-0.10),(-15,-0.08),(-14,-0.05),(-13,-0.04),(-12,-0.03),(-11,0.00),(-10,0.02),(-9,0.01),(-8,0.03),(-7,0.05),(-6,0.04),(-5,0.06),(-4,0.08),(-3,0.09),(-2,0.07),(-1,0.05),(0,0.06),(1,0.06),(2,0.08),(3,0.10),(4,0.12),(5,0.14),(6,0.15),(7,0.16),(8,0.18),(9,0.20),(10,0.21),(11,0.20),(12,0.17),(13,0.15),(14,0.15),(15,0.18),(16,0.22),(17,0.27),(18,0.31),(19,0.34),(20,0.35),(21,0.38),(22,0.40),(23,0.40),(24,0.38),(25,0.35),(26,0.34),(27,0.33),(28,0.34),(29,0.33),(30,0.32),(31,0.31),(32,0.31),(33,0.34),(34,0.38),(35,0.41),(36,0.43),(37,0.45),(38,0.47),(39,0.49),(40,0.50),(41,0.49),(42,0.47),(43,0.45),(44,0.43),(45,0.43),(46,0.47),(47,0.52),(48,0.57),(49,0.60),(50,0.61),(51,0.58),(52,0.55),(53,0.53),(54,0.52),(55,0.50),(56,0.48),(57,0.47),(58,0.46),(59,0.48),(60,0.52),(61,0.55),(62,0.58),(63,0.58),(64,0.50),(65,0.49)]
SSP_C_M1 = [(-20,-0.30),(-18,-0.87),(-16,0.20),(-14,-0.35),(-12,0.15),(-10,-0.55),(-8,0.25),(-6,-0.20),(-4,0.35),(-2,-0.10),(0,0.40),(2,-0.15),(4,0.30),(6,0.45),(8,0.05),(10,0.55),(12,-0.05),(14,0.40),(16,0.10),(18,0.60),(20,0.25),(22,0.97),(24,0.30),(26,0.55),(28,0.10),(30,0.65),(32,0.20),(34,0.55),(36,0.15),(38,0.70),(40,0.30),(42,0.65),(44,0.25),(46,0.75),(48,0.40),(50,0.85),(52,0.35),(54,0.70),(56,0.30),(58,0.75),(60,0.40),(62,0.70),(64,0.35)]
SSP_C_M2 = [(-20,0.10),(-18,-0.30),(-16,-0.45),(-14,0.30),(-12,-0.40),(-10,0.20),(-8,-0.35),(-6,0.35),(-4,-0.25),(-2,0.25),(0,-0.20),(2,0.35),(4,-0.10),(6,0.05),(8,0.50),(10,-0.10),(12,0.45),(14,-0.05),(16,0.55),(18,0.05),(20,0.70),(22,0.15),(24,0.60),(26,0.05),(28,0.65),(30,0.10),(32,0.70),(34,0.25),(36,0.80),(38,0.20),(40,0.75),(42,0.30),(44,0.80),(46,0.20),(48,0.70),(50,0.30),(52,0.85),(54,0.35),(56,0.80),(58,0.30),(60,0.70),(62,0.35),(64,0.80)]
SSP_C_M3 = [(-20,-0.55),(-18,0.05),(-16,-0.20),(-14,-0.50),(-12,0.30),(-10,-0.15),(-8,-0.45),(-6,0.10),(-4,-0.40),(-2,0.45),(0,0.05),(2,-0.30),(4,0.50),(6,-0.05),(8,0.35),(10,0.10),(12,0.60),(14,0.00),(16,0.30),(18,0.45),(20,0.05),(22,0.55),(24,0.10),(26,0.75),(28,0.35),(30,0.20),(32,0.55),(34,0.05),(36,0.50),(38,0.35),(40,0.10),(42,0.55),(44,0.60),(46,0.30),(48,0.85),(50,0.45),(52,0.25),(54,0.90),(56,0.45),(58,0.40),(60,0.65),(62,0.15),(64,0.55)]

LABELS = ['PI control', '1%CO2', 'Historical', 'SSP2-4.5']
TITLES = [r'a.) Global mean T (T$_0$)', r'b.) Interhemispheric T gradient (T$_1$)',
          r'c.) Equator-to-pole T gradient (T$_2$)']
YTICKS_A = [-2, -1, 0, 1, 2, 3, 4, 5, 6]
YTICKS_B = [-1, -0.5, 0, 0.5, 1]
YTICKS_C = [-1.5, -1, -0.5, 0, 0.5, 1, 1.5, 2, 2.5, 3]
XTICKS = [-100, 0, 100]

# annotation values (panel a)
MARK_YEARS = ['2069', '2084', '2100']

# ---------------- styling ----------------
PURPLE = '#7E2F8E'
RED = '#A2142F'
GRAY = '#808080'
LIGHTGRAY = '#9A9A9A'
AXC = '#262626'
W, H = 2067, 804


def xy(p):
    a = np.asarray(p, dtype=float)
    return a[:, 0], a[:, 1]


def fmt(v):
    return '%g' % v


fig = plt.figure(figsize=(W / 100, H / 100), dpi=100)
lefts = [83, 798, 1514]
axes = []
for L in lefts:
    ax = fig.add_axes([L / W, (H - 708) / H, 542 / W, 578 / H])
    axes.append(ax)

panels = [
    (PI_A, RED_A, HIST_A, [HIST_A_M1, HIST_A_M2], SSP_A, [SSP_A_M1, SSP_A_M2, SSP_A_M3], YTICKS_A),
    (PI_B, RED_B, HIST_B, [], SSP_B, [SSP_B_M1, SSP_B_M2, SSP_B_M3], YTICKS_B),
    (PI_C, RED_C, HIST_C, [HIST_C_M1, HIST_C_M2], SSP_C, [SSP_C_M1, SSP_C_M2, SSP_C_M3], YTICKS_C),
]

LW = 2.9
for ax, (pi, red, hist, hm, ssp, sm, yt), title in zip(axes, panels, TITLES):
    h1, = ax.plot(*xy(pi), color=PURPLE, lw=LW, solid_joinstyle='round', zorder=3)
    h2, = ax.plot(*xy(red), color=RED, lw=LW, solid_joinstyle='round', zorder=3)
    for m in hm:
        ax.plot(*xy(m), color=LIGHTGRAY, lw=0.8, zorder=3)
    h3, = ax.plot(*xy(hist), color=GRAY, lw=LW, solid_joinstyle='round', zorder=3)
    for m in sm:
        ax.plot(*xy(m), color='k', lw=0.6, zorder=3)
    h4, = ax.plot(*xy(ssp), color='k', lw=LW, solid_joinstyle='round', zorder=3)
    ax._handles = [h1, h2, h3, h4]

    ax.set_xlim(-184.5, 150)
    ax.set_ylim(yt[0], yt[-1])
    ax.set_xticks(XTICKS)
    ax.set_xticklabels([fmt(v) for v in XTICKS])
    ax.set_yticks(yt)
    ax.set_yticklabels([fmt(v) for v in yt])
    ax.grid(True, color='#DEDEDE', lw=1.8, zorder=0)
    ax.set_axisbelow(True)
    for s in ax.spines.values():
        s.set_linewidth(2.0)
        s.set_color(AXC)
        s.set_zorder(5)
    ax.tick_params(direction='in', top=True, right=True, length=6, width=2,
                   color=AXC, labelcolor=AXC, labelsize=21)
    ax.tick_params(axis='x', pad=13)
    ax.tick_params(axis='y', pad=7)
    ax.set_title(title, fontsize=24, fontweight='bold', color='k', pad=8)
    ax.set_xlabel('year rel. to SAI start date', fontsize=23.5, fontweight='bold',
                  color=AXC, labelpad=12)
    ax.set_ylabel('°C above target', fontsize=23, fontweight='bold', color=AXC,
                  labelpad=12)

# legend in panel a
axa = axes[0]
leg = axa.legend(axa._handles, LABELS, loc='upper left', bbox_to_anchor=(0.026, 0.976),
                 borderaxespad=0, frameon=True, fancybox=False,
                 handlelength=2.15, handletextpad=0.25, labelspacing=0.42,
                 borderpad=0.3, prop={'weight': 'bold', 'size': 20})
leg.get_frame().set_edgecolor(AXC)
leg.get_frame().set_linewidth(2.0)
leg.get_frame().set_alpha(1)
leg.set_zorder(10)

# annotations in panel a
dots = (0, (1.3, 0.9))
axa.plot([0, 0], [-1.0, 1.49], color='k', lw=2, ls=dots, zorder=6)
axa.plot([34.5, 34.5], [1.28, 2.72], color='k', lw=2, ls=dots, zorder=6)
axa.plot([49, 49], [1.65, 3.25], color='k', lw=2, ls=dots, zorder=6)
axa.plot([65, 65], [1.88, 3.88], color='k', lw=2, ls=dots, zorder=6)
axa.text(-20, 1.95, 'SSP2-4.5\nyear 2035', ha='center', va='center', fontsize=19.5,
         fontweight='normal', linespacing=1.25, zorder=7)
axa.text(34, 2.92, MARK_YEARS[0], ha='right', va='center', fontsize=19.5, fontweight='normal', zorder=7)
axa.text(49, 3.53, MARK_YEARS[1], ha='right', va='center', fontsize=19.5, fontweight='normal', zorder=7)
axa.text(64.5, 4.12, MARK_YEARS[2], ha='right', va='center', fontsize=19.5, fontweight='normal', zorder=7)
axa.text(-4, -1.24, 'PI control year 70', color=RED, ha='left', va='center', fontsize=19.5,
         fontweight='normal', zorder=7)

fig.text(0.5, 1 - 27 / H, 'Warming in background scenarios', ha='center', va='center',
         fontsize=30, fontweight='bold', color='k')

fig.savefig('out.png', dpi=100, facecolor='white')
